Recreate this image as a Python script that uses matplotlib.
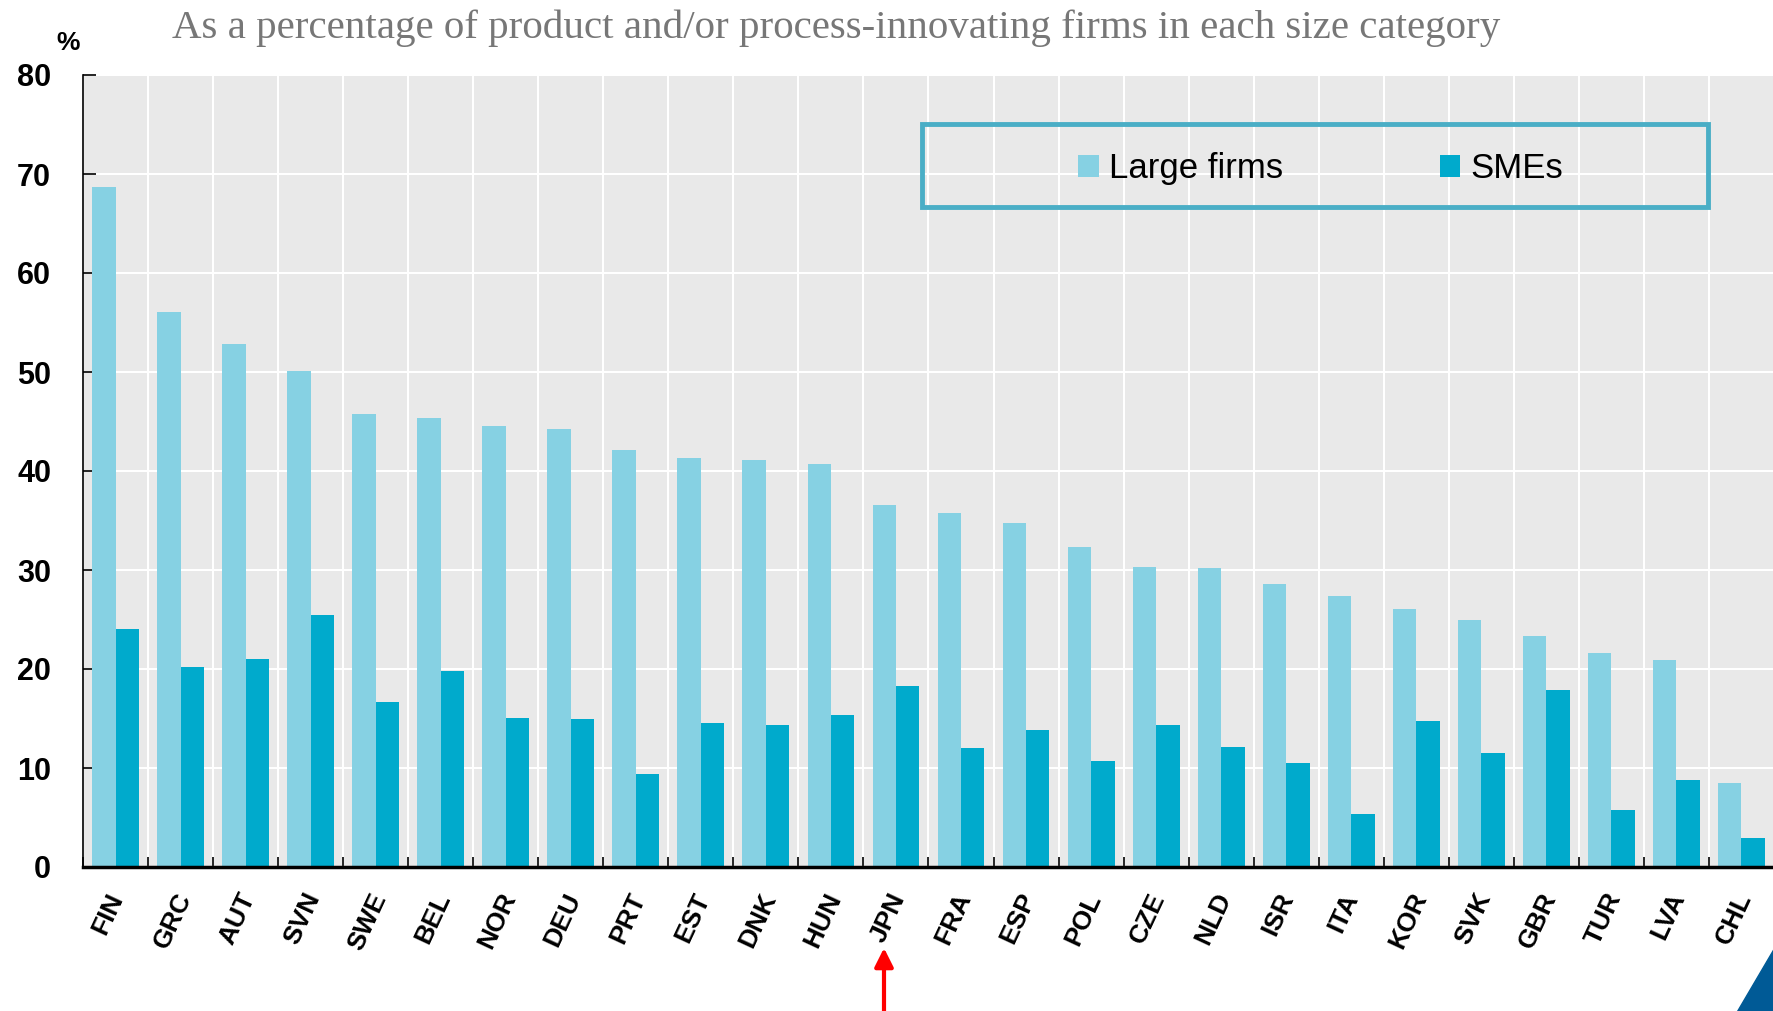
import matplotlib
matplotlib.use("Agg")
import matplotlib.pyplot as plt
import numpy as np
from matplotlib.patches import Rectangle, Polygon, FancyArrowPatch
from matplotlib.transforms import ScaledTranslation

# Data
countries = ["FIN", "GRC", "AUT", "SVN", "SWE", "BEL", "NOR", "DEU", "PRT", "EST",
             "DNK", "HUN", "JPN", "FRA", "ESP", "POL", "CZE", "NLD", "ISR", "ITA",
             "KOR", "SVK", "GBR", "TUR", "LVA", "CHL"]
large_firms = [68.7, 56.1, 52.8, 50.1, 45.8, 45.4, 44.5, 44.2, 42.1, 41.3,
               41.1, 40.7, 36.6, 35.8, 34.7, 32.3, 30.3, 30.2, 28.6, 27.4,
               26.1, 24.9, 23.3, 21.6, 20.9, 8.5]
smes = [24.0, 20.2, 21.0, 25.5, 16.7, 19.8, 15.1, 15.0, 9.4, 14.5,
        14.3, 15.4, 18.3, 12.0, 13.8, 10.7, 14.3, 12.1, 10.5, 5.4,
        14.7, 11.5, 17.9, 5.8, 8.8, 2.9]
yticks = [0, 10, 20, 30, 40, 50, 60, 70, 80]

light = "#86d1e3"
dark = "#00aacc"
bg = "#e9e9e9"
sans = ["Liberation Sans", "DejaVu Sans"]

fig = plt.figure(figsize=(17.74, 10.11), dpi=100)
ax = fig.add_axes([83 / 1774, 144 / 1011, 1 - 83 / 1774, 792 / 1011])
ax.set_facecolor(bg)

x = np.arange(len(countries))
w = 0.36
ax.bar(x - w / 2, large_firms, width=w, color=light, zorder=3, label="Large firms")
ax.bar(x + w / 2, smes, width=w, color=dark, zorder=3, label="SMEs")

ax.set_xlim(-0.5, len(countries) - 0.5)
ax.set_ylim(0, 80)

# grid: horizontal at tens, vertical at group boundaries
ax.set_yticks(yticks)
ax.set_xticks(x)
ax.set_xticks(np.arange(len(countries) + 1) - 0.5, minor=True)
ax.grid(axis="y", which="major", color="white", lw=1.5, zorder=1)
ax.grid(axis="x", which="minor", color="white", lw=1.5, zorder=1)
ax.grid(axis="x", which="major", visible=False)

for s in ["top", "right"]:
    ax.spines[s].set_visible(False)
ax.spines["left"].set_linewidth(1.2)
ax.spines["bottom"].set_linewidth(2.5)
ax.spines["bottom"].set_zorder(5)

ax.tick_params(axis="y", direction="in", length=9, width=1.2, pad=23)
ax.tick_params(axis="x", which="major", length=0, pad=16)
ax.tick_params(axis="x", which="minor", direction="in", length=7, width=1.2)

ax.set_yticklabels([str(t) for t in yticks], family=sans, fontsize=22, fontweight="bold")
ax.set_xticklabels(countries, rotation=65, family=sans, fontsize=19,
                   fontweight="bold", ha="center", va="top")
shift = ScaledTranslation(-8 / 100, 0, fig.dpi_scale_trans)
for lab in ax.get_xticklabels():
    lab.set_transform(lab.get_transform() + shift)

# percent sign
fig.text(68 / 1774, 1 - 43 / 1011, "%", family=sans, fontsize=19, fontweight="bold",
         ha="center", va="center")

# title
fig.text(836 / 1774, 1 - 28 / 1011,
         "As a percentage of product and/or process-innovating firms in each size category",
         family=["Liberation Serif", "DejaVu Serif"], fontsize=29.5, color="#777777",
         ha="center", va="center")

# legend box
ax.add_patch(Rectangle((0.496, 0.833), 0.465, 0.105, transform=ax.transAxes,
                       facecolor="none", edgecolor="#4aaec6", lw=3.5, zorder=6))
leg = ax.legend(loc="center", bbox_to_anchor=(0.732, 0.882), ncol=2, frameon=False,
                prop={"family": sans, "size": 25},
                handlelength=0.6, handleheight=0.6, handletextpad=0.3,
                columnspacing=4.5)

# red arrow under JPN
fig.add_artist(FancyArrowPatch((884 / 1774, 0.0), (884 / 1774, 1 - 948 / 1011),
                               transform=fig.transFigure, arrowstyle="-|>",
                               mutation_scale=28, color="red", lw=3,
                               shrinkA=0, shrinkB=0))

# dark blue corner shape
fig.add_artist(Polygon([(1737 / 1774, 0), (1, 0), (1, 1 - 948 / 1011)], closed=True,
                       transform=fig.transFigure, color="#005a96"))

fig.savefig("out.png", dpi=100)
